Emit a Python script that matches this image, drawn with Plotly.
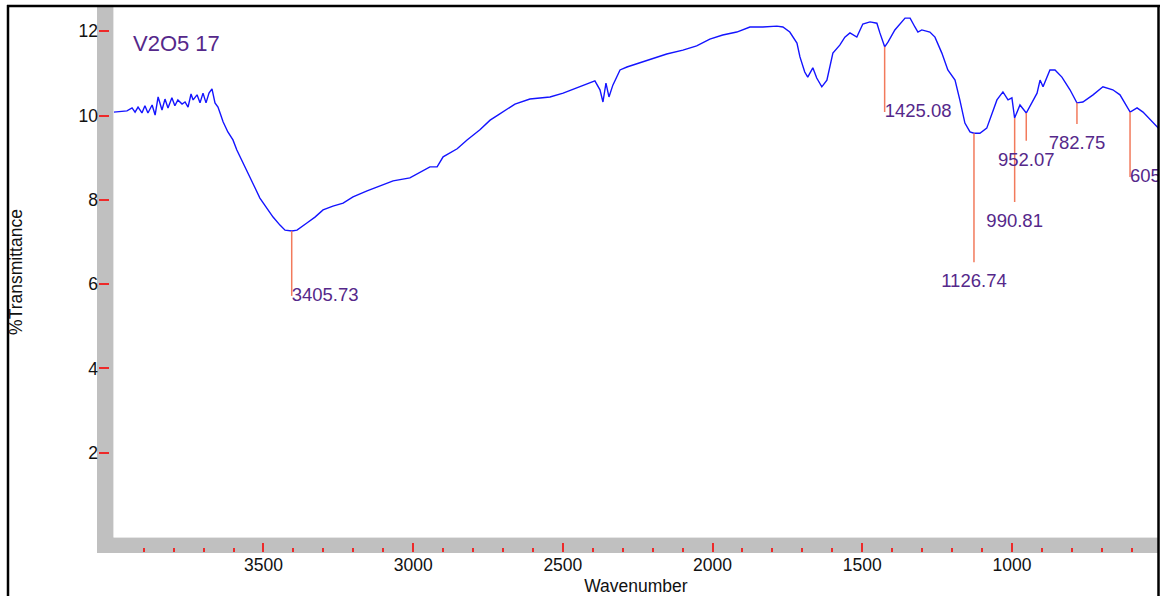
import plotly.graph_objects as go

# ---------------- data ----------------
wavenumber = [4000, 3956, 3939, 3929, 3919, 3906, 3896, 3886, 3872, 3862, 3852, 3839,
              3829, 3819, 3806, 3796, 3786, 3772, 3762, 3752, 3742, 3735, 3722, 3712,
              3702, 3692, 3682, 3672, 3662, 3652, 3645, 3635, 3619, 3602, 3589, 3572,
              3562, 3545, 3528, 3512, 3488, 3468, 3445, 3428, 3405, 3388, 3355, 3328,
              3301, 3268, 3234, 3201, 3154, 3111, 3067, 3011, 2977, 2944, 2920, 2900,
              2853, 2820, 2777, 2743, 2717, 2660, 2610, 2543, 2499, 2453, 2393, 2376,
              2366, 2356, 2346, 2333, 2309, 2286, 2243, 2186, 2153, 2099, 2053, 2009,
              1966, 1919, 1875, 1832, 1785, 1765, 1742, 1718, 1708, 1692, 1682, 1665,
              1652, 1635, 1618, 1598, 1575, 1558, 1541, 1518, 1498, 1474, 1451, 1441,
              1425, 1414, 1391, 1357, 1340, 1324, 1314, 1301, 1274, 1257, 1234, 1214,
              1190, 1174, 1157, 1140, 1127, 1107, 1084, 1050, 1030, 1013, 1000, 991,
              973, 952, 932, 916, 906, 896, 873, 856, 833, 806, 783, 763,
              729, 696, 663, 639, 605, 582, 562, 528, 511]
transmittance = [10.08, 10.11, 10.18, 10.08, 10.20, 10.06, 10.23, 10.06, 10.25, 10.01, 10.44, 10.13,
                 10.39, 10.18, 10.42, 10.23, 10.37, 10.27, 10.32, 10.20, 10.51, 10.37, 10.49, 10.30,
                 10.53, 10.30, 10.53, 10.63, 10.30, 10.20, 10.06, 9.85, 9.61, 9.42, 9.18, 8.94,
                 8.78, 8.54, 8.28, 8.04, 7.81, 7.59, 7.40, 7.28, 7.26, 7.28, 7.45, 7.59,
                 7.76, 7.85, 7.92, 8.07, 8.21, 8.33, 8.45, 8.52, 8.66, 8.78, 8.78, 9.02,
                 9.21, 9.42, 9.66, 9.89, 10.01, 10.27, 10.39, 10.44, 10.53, 10.65, 10.82, 10.61,
                 10.32, 10.77, 10.44, 10.72, 11.08, 11.15, 11.25, 11.39, 11.46, 11.55, 11.65, 11.81,
                 11.91, 11.98, 12.10, 12.10, 12.12, 12.10, 11.98, 11.72, 11.39, 11.03, 10.91, 11.13,
                 10.89, 10.68, 10.84, 11.48, 11.67, 11.86, 11.96, 11.86, 12.17, 12.22, 12.19, 11.96,
                 11.63, 11.74, 12.03, 12.31, 12.31, 12.10, 11.98, 12.03, 11.98, 11.86, 11.48, 11.08,
                 10.84, 10.37, 9.82, 9.61, 9.58, 9.58, 9.70, 10.37, 10.56, 10.37, 10.42, 9.94,
                 10.25, 10.06, 10.32, 10.53, 10.84, 10.68, 11.08, 11.08, 10.91, 10.61, 10.30, 10.32,
                 10.49, 10.68, 10.61, 10.49, 10.08, 10.18, 10.08, 9.82, 9.70]

peak_wavenumber = [3405.73, 1425.08, 1126.74, 990.81, 952.07, 782.75, 605.41]
peak_labels = ["3405.73", "1425.08", "1126.74", "990.81", "952.07", "782.75", "605.41"]
peak_top = [7.26, 11.63, 9.58, 9.94, 10.06, 10.30, 10.08]      # curve value at the peak
peak_label_y = [5.72, 10.08, 6.52, 7.95, 9.40, 9.80, 8.54]     # where the marker line ends
peak_label_below = [False, False, True, True, True, True, False]  # label under line end, else to its right

x_tickvals = [4000, 3500, 3000, 2500, 2000, 1500, 1000]
x_ticktext = ["", "3500", "3000", "2500", "2000", "1500", "1000"]
y_tickvals = [2, 4, 6, 8, 10, 12]

sample_name = "V2O5 17"

# ---------------- styles ----------------
FONT = "Arial, Liberation Sans, sans-serif"
PURPLE = "#55288a"
RED = "#ee2a2a"
SALMON = "#f27a5c"
GRAY = "#c0c0c0"

W, H = 1162, 596
ML, MR, MT, MB = 98, 4, 7, 44
PW, PH = W - ML - MR, H - MT - MB


def px(xpix):
    return (xpix - ML) / PW


def py(ypix):
    return (H - MB - ypix) / PH


fig = go.Figure()

fig.add_trace(go.Scatter(x=wavenumber, y=transmittance, mode="lines",
                         line=dict(color="#1414ff", width=1.4), showlegend=False,
                         hoverinfo="skip"))

# peak marker lines
lx, ly = [], []
for w, t, e in zip(peak_wavenumber, peak_top, peak_label_y):
    lx += [w, w, None]
    ly += [t, e, None]
fig.add_trace(go.Scatter(x=lx, y=ly, mode="lines", line=dict(color=SALMON, width=1.5),
                         showlegend=False, hoverinfo="skip"))

right_idx = [i for i, b in enumerate(peak_label_below) if not b]
below_idx = [i for i, b in enumerate(peak_label_below) if b]

fig.add_trace(go.Scatter(x=[peak_wavenumber[i] for i in right_idx],
                         y=[peak_label_y[i] for i in right_idx],
                         mode="text", text=[peak_labels[i] for i in right_idx],
                         textposition="middle right", cliponaxis=True,
                         textfont=dict(family=FONT, size=18.5, color=PURPLE),
                         showlegend=False, hoverinfo="skip"))
fig.add_trace(go.Scatter(x=[peak_wavenumber[i] for i in below_idx],
                         y=[peak_label_y[i] for i in below_idx],
                         mode="markers+text", text=[peak_labels[i] for i in below_idx],
                         marker=dict(size=16, color="rgba(0,0,0,0)"),
                         textposition="bottom center", cliponaxis=True,
                         textfont=dict(family=FONT, size=18.5, color=PURPLE),
                         showlegend=False, hoverinfo="skip"))

x_left = px(113.8)
y_bottom = py(537)

shapes = [
    # gray frame bands
    dict(type="rect", xref="paper", yref="paper", x0=px(97), x1=px(113.8), y0=py(553), y1=py(7),
         fillcolor=GRAY, line=dict(width=0), layer="below"),
    dict(type="rect", xref="paper", yref="paper", x0=px(97), x1=px(1158), y0=py(553), y1=py(537),
         fillcolor=GRAY, line=dict(width=0), layer="below"),
    # light inner edges
    dict(type="line", xref="paper", yref="paper", x0=px(113.5), x1=px(113.5), y0=py(537), y1=py(7),
         line=dict(color="#e6e6e6", width=1), layer="below"),
    dict(type="line", xref="paper", yref="paper", x0=px(113.5), x1=px(1158), y0=py(537.5), y1=py(537.5),
         line=dict(color="#e6e6e6", width=1), layer="below"),
    # outer black border
    dict(type="line", xref="paper", yref="paper", x0=px(8), x1=px(8), y0=py(600), y1=py(5),
         line=dict(color="black", width=2.5), layer="above"),
    dict(type="line", xref="paper", yref="paper", x0=px(7), x1=px(1160), y0=py(6), y1=py(6),
         line=dict(color="black", width=2.5), layer="above"),
    dict(type="line", xref="paper", yref="paper", x0=px(1158.5), x1=px(1158.5), y0=py(600), y1=py(5),
         line=dict(color="black", width=2.5), layer="above"),
]

fig.update_layout(
    width=W, height=H,
    margin=dict(l=ML, r=MR, t=MT, b=MB, autoexpand=False),
    paper_bgcolor="white", plot_bgcolor="white",
    font=dict(family=FONT, size=17, color="#111111"),
    showlegend=False,
    hovermode=False,
    title=dict(text=sample_name, x=133 / W, xanchor="left", y=1 - 43 / H, yanchor="middle",
               xref="container", yref="container",
               font=dict(family=FONT, size=22, color=PURPLE)),
    shapes=shapes,
    xaxis=dict(
        range=[4000, 512], domain=[x_left, 1], anchor="free", position=0,
        tickmode="array", tickvals=x_tickvals, ticktext=x_ticktext,
        ticks="inside", ticklen=9, tickwidth=2, tickcolor=RED,
        minor=dict(tickmode="linear", tick0=0, dtick=100, ticks="inside", ticklen=4,
                   tickwidth=2, tickcolor=RED, showgrid=False),
        showgrid=False, zeroline=False, showline=False,
        tickfont=dict(family=FONT, size=17.5, color="#111111"),
        title=dict(text="Wavenumber", standoff=7, font=dict(family=FONT, size=17.5, color="#111111")),
        automargin=False,
    ),
    yaxis=dict(
        range=[0, 12.574], domain=[y_bottom, 1], anchor="free", position=0,
        tickmode="array", tickvals=y_tickvals,
        ticks="inside", ticklen=10, tickwidth=2, tickcolor=RED,
        showgrid=False, zeroline=False, showline=False,
        tickfont=dict(family=FONT, size=17.5, color="#111111"),
        title=dict(text="%Transmittance", standoff=50, font=dict(family=FONT, size=17.5, color="#111111")),
        automargin=False,
    ),
)

fig.write_html("out.html",
               config={"displayModeBar": False},
               post_script="document.body.style.margin='0';document.body.style.overflow='hidden';")
